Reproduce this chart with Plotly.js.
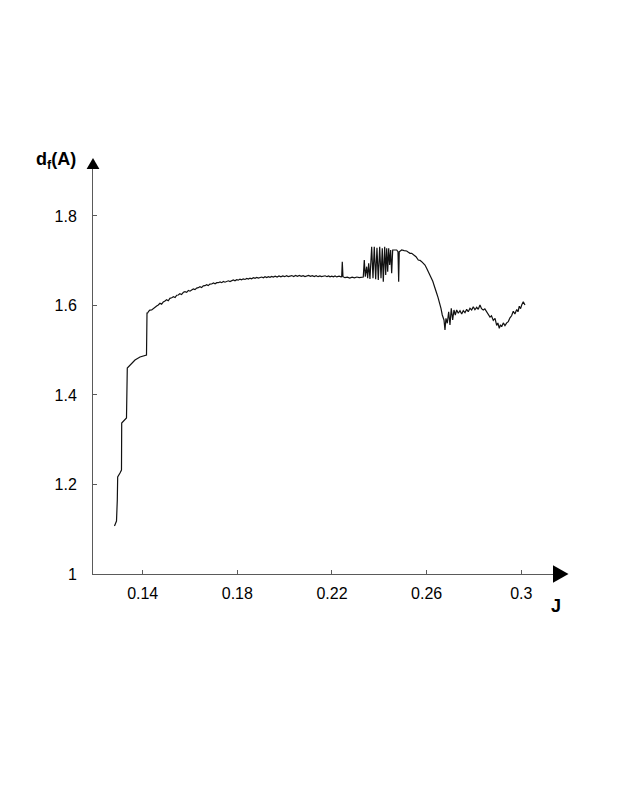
<!DOCTYPE html>
<html>
<head>
<meta charset="utf-8">
<script src="https://cdn.plot.ly/plotly-3.0.1.min.js"></script>
<style>html,body{margin:0;padding:0;background:#fff;}#chart{width:623px;height:806px;}</style>
</head>
<body>
<div id="chart"></div>
<script>
// ---- data ----
const J = [
  0.12808,0.12893,0.12927,0.12943,0.13041,0.13104,0.13113,0.13210,0.13315,0.13349,
  0.13463,0.13675,0.13886,0.14161,0.14182,0.14211,0.14250,0.14300,0.14380,0.14450,
  0.14520,0.14590,0.14659,0.14730,0.14800,0.14870,0.14942,0.15010,0.15080,0.15150,
  0.15226,0.15300,0.15370,0.15440,0.15504,0.15570,0.15640,0.15720,0.15788,0.15860,
  0.15930,0.16000,0.16071,0.16140,0.16210,0.16280,0.16350,0.16420,0.16490,0.16560,
  0.16633,0.16700,0.16770,0.16840,0.16916,0.16990,0.17060,0.17130,0.17195,0.17270,
  0.17340,0.17410,0.17478,0.17550,0.17620,0.17690,0.17761,0.17830,0.17900,0.17970,
  0.18040,0.18110,0.18180,0.18250,0.18323,0.18400,0.18470,0.18535,0.18600,0.18680,
  0.18750,0.18820,0.18890,0.18957,0.19030,0.19100,0.19170,0.19240,0.19310,0.19380,
  0.19450,0.19519,0.19600,0.19680,0.19760,0.19840,0.19920,0.20000,0.20080,0.20150,
  0.20225,0.20300,0.20380,0.20460,0.20540,0.20620,0.20700,0.20780,0.20860,0.20931,
  0.21010,0.21090,0.21170,0.21250,0.21330,0.21410,0.21490,0.21560,0.21632,0.21710,
  0.21790,0.21860,0.21915,0.21990,0.22060,0.22130,0.22200,0.22300,0.22380,0.22410,
  0.22435,0.22465,0.22549,0.22650,0.22750,0.22850,0.22950,0.23050,0.23150,0.23250,
  0.23322,0.23365,0.23407,0.23466,0.23508,0.23550,0.23605,0.23677,0.23732,0.23787,
  0.23846,0.23901,0.23956,0.24016,0.24071,0.24126,0.24168,0.24227,0.24270,0.24312,
  0.24354,0.24396,0.24438,0.24480,0.24522,0.24565,0.24650,0.24734,0.24789,0.24818,
  0.24843,0.24945,0.25050,0.25156,0.25230,0.25296,0.25368,0.25450,0.25550,0.25647,
  0.25720,0.25790,0.25860,0.25930,0.26000,0.26069,0.26140,0.26213,0.26260,0.26310,
  0.26370,0.26424,0.26480,0.26534,0.26606,0.26661,0.26733,0.26775,0.26817,0.26872,
  0.26931,0.26986,0.27041,0.27100,0.27155,0.27210,0.27269,0.27337,0.27409,0.27481,
  0.27548,0.27620,0.27692,0.27759,0.27831,0.27903,0.27971,0.28040,0.28115,0.28180,
  0.28254,0.28320,0.28393,0.28460,0.28537,0.28600,0.28677,0.28740,0.28816,0.28890,
  0.28960,0.29010,0.29070,0.29120,0.29171,0.29239,0.29310,0.29383,0.29450,0.29522,
  0.29590,0.29662,0.29730,0.29806,0.29860,0.29915,0.29970,0.30017,0.30084,0.30156
];
const dfA = [
  1.1073,1.1184,1.1654,1.2168,1.2257,1.2324,1.3374,1.3441,1.3486,1.4603,
  1.4670,1.4782,1.4849,1.4894,1.5832,1.5832,1.5870,1.5895,1.5899,1.5935,
  1.5960,1.5990,1.6011,1.6050,1.6030,1.6080,1.6101,1.6130,1.6105,1.6160,
  1.6174,1.6198,1.6180,1.6230,1.6235,1.6262,1.6245,1.6295,1.6308,1.6295,
  1.6338,1.6320,1.6346,1.6372,1.6355,1.6390,1.6398,1.6418,1.6400,1.6438,
  1.6442,1.6465,1.6445,1.6478,1.6480,1.6502,1.6484,1.6510,1.6509,1.6528,
  1.6510,1.6536,1.6520,1.6545,1.6552,1.6536,1.6558,1.6570,1.6552,1.6576,
  1.6566,1.6590,1.6574,1.6596,1.6582,1.6604,1.6590,1.6612,1.6596,1.6622,
  1.6606,1.6629,1.6611,1.6625,1.6636,1.6618,1.6642,1.6624,1.6644,1.6628,
  1.6649,1.6633,1.6654,1.6636,1.6659,1.6641,1.6662,1.6644,1.6664,1.6646,
  1.6663,1.6669,1.6648,1.6672,1.6651,1.6670,1.6650,1.6668,1.6648,1.6663,
  1.6670,1.6650,1.6667,1.6646,1.6664,1.6644,1.6662,1.6646,1.6656,1.6664,
  1.6644,1.6660,1.6640,1.6656,1.6641,1.6659,1.6638,1.6654,1.6640,1.6644,
  1.6979,1.6644,1.6621,1.6634,1.6614,1.6632,1.6616,1.6636,1.6621,1.6639,
  1.6637,1.7017,1.6644,1.6867,1.6608,1.6943,1.6592,1.7314,1.6608,1.7314,
  1.6585,1.7292,1.6570,1.7314,1.6608,1.7278,1.6532,1.7314,1.6681,1.7278,
  1.6755,1.7278,1.6905,1.7240,1.6719,1.7240,1.7235,1.7240,1.7202,1.6532,
  1.7202,1.7240,1.7228,1.7218,1.7190,1.7166,1.7166,1.7130,1.7090,1.7017,
  1.7010,1.6979,1.6935,1.6905,1.6830,1.6755,1.6690,1.6608,1.6540,1.6458,
  1.6380,1.6273,1.6180,1.6085,1.5937,1.5788,1.5676,1.5452,1.5714,1.5602,
  1.5861,1.5564,1.5937,1.5676,1.5899,1.5788,1.5899,1.5826,1.5884,1.5810,
  1.5884,1.5839,1.5915,1.5861,1.5937,1.5899,1.5973,1.5905,1.5960,1.5915,
  1.6011,1.5930,1.5899,1.5925,1.5855,1.5810,1.5740,1.5770,1.5666,1.5710,
  1.5554,1.5610,1.5490,1.5570,1.5527,1.5612,1.5550,1.5612,1.5640,1.5724,
  1.5770,1.5871,1.5810,1.5909,1.5860,1.5983,1.5930,1.6011,1.6085,1.6011
];
const xTickVals = [0.14, 0.18, 0.22, 0.26, 0.3];
const xTickText = ['0.14', '0.18', '0.22', '0.26', '0.3'];
const yTickVals = [1, 1.2, 1.4, 1.6, 1.8];
const yTickText = ['1', '1.2', '1.4', '1.6', '1.8'];
const xTitle = 'J';
const yTitle = 'd<sub>f</sub>(A)';

const FONT = 'Liberation Sans, Arial, sans-serif';
const axisColor = '#5a5a5a';

const trace = {
  x: J, y: dfA, type: 'scatter', mode: 'lines',
  line: {color: '#111111', width: 1.2},
  hoverinfo: 'skip', showlegend: false
};

const layout = {
  width: 623, height: 806,
  margin: {l: 93, r: 70, t: 169, b: 232, pad: 0},
  paper_bgcolor: '#ffffff', plot_bgcolor: '#ffffff',
  font: {family: FONT, size: 16, color: '#000000'},
  showlegend: false,
  xaxis: {
    range: [0.119, 0.3134], showgrid: false, zeroline: false,
    showline: true, linecolor: axisColor, linewidth: 1,
    ticks: 'inside', ticklen: 4, tickwidth: 1, tickcolor: axisColor,
    tickvals: xTickVals, ticktext: xTickText,
    tickfont: {family: FONT, size: 16, color: '#000'},
    ticklabelstandoff: 5
  },
  yaxis: {
    range: [1, 1.905], showgrid: false, zeroline: false,
    showline: true, linecolor: axisColor, linewidth: 1,
    ticks: 'inside', ticklen: 4, tickwidth: 1, tickcolor: axisColor,
    tickvals: yTickVals, ticktext: yTickText,
    tickfont: {family: FONT, size: 16, color: '#000'},
    ticklabelstandoff: 12
  },
  shapes: [
    {type: 'path', xref: 'paper', yref: 'paper',
     path: 'M 1,-0.0217 L 1.0337,0 L 1,0.0217 Z',
     fillcolor: '#000', line: {color: '#000', width: 0}},
    {type: 'path', xref: 'paper', yref: 'paper',
     path: 'M -0.0139,1 L 0,1.0272 L 0.0139,1 Z',
     fillcolor: '#000', line: {color: '#000', width: 0}}
  ],
  annotations: [
    {xref: 'paper', yref: 'paper', x: 1.0065, y: -0.079, xanchor: 'center', yanchor: 'middle',
     text: '<b>' + xTitle + '</b>', showarrow: false, font: {family: FONT, size: 18, color: '#000'}},
    {xref: 'paper', yref: 'paper', x: -0.0804, y: 1.0198, xanchor: 'center', yanchor: 'middle',
     text: '<b>' + yTitle + '</b>', showarrow: false, font: {family: FONT, size: 18, color: '#000'}}
  ]
};

Plotly.newPlot('chart', [trace], layout, {staticPlot: true, displayModeBar: false});
</script>
</body>
</html>
